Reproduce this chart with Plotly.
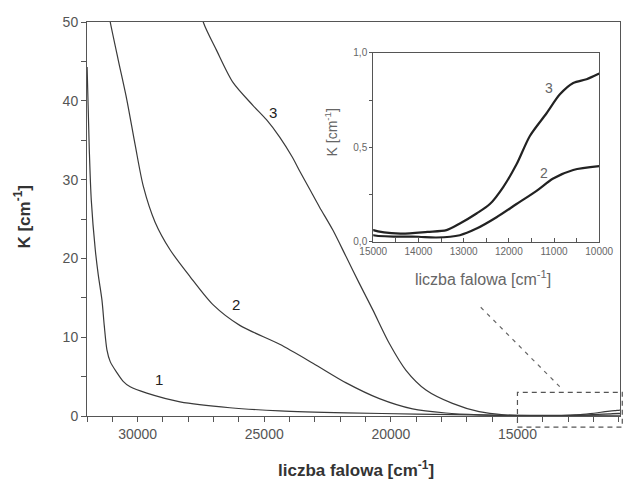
import plotly.graph_objects as go

# ---------------- data ----------------
x1 = [31996, 31909, 31831, 31673, 31555, 31409, 31319, 31213, 31083, 30819, 30571,
      30295, 29638, 28327, 26358, 24390, 21764, 19000, 16000, 13000, 10000]
k1 = [44.3, 33.8, 27.4, 21.1, 17.9, 14.7, 11.5, 8.4, 6.9, 5.5, 4.4,
      3.7, 2.9, 1.8, 1.05, 0.65, 0.4, 0.25, 0.12, 0.08, 0.1]

x2 = [31250, 31083, 30768, 30425, 30098, 29772, 29311, 28720, 27933, 27016, 25965,
      24390, 23078, 21764, 20453, 19142, 17827, 16516, 15000, 14000, 13600, 13083,
      12714, 12271, 11829, 11386, 11018, 10575, 10000]
k2 = [53, 50, 45.2, 40.1, 34.4, 29.1, 24.6, 21.1, 17.7, 14.1, 11.5,
      9.1, 6.7, 4.2, 2.2, 0.9, 0.38, 0.15, 0.035, 0.027, 0.023, 0.035,
      0.07, 0.13, 0.2, 0.27, 0.335, 0.38, 0.40]

x3 = [27600, 27409, 26882, 26228, 25441, 24913, 24390, 23900, 23602, 23209, 22815,
      22291, 21764, 21240, 20717, 20059, 19402, 18614, 17567, 16516, 15465, 15000,
      14400, 13800, 13378, 13083, 12714, 12419, 12124, 11829, 11534, 11165, 10870,
      10575, 10280, 10000]
k3 = [53, 50, 46.4, 42.3, 39.4, 37.6, 35.4, 32.9, 31.1, 28.8, 26.5,
      23.6, 20.2, 16.8, 13.5, 9.2, 5.8, 3.3, 1.6, 0.55, 0.13, 0.062,
      0.044, 0.053, 0.062, 0.097, 0.15, 0.2, 0.29, 0.41, 0.56, 0.68, 0.78,
      0.84, 0.86, 0.89]

# tick positions / labels
main_xticks = list(range(32000, 10999, -1000))
main_xlabels = {30000: "30000", 25000: "25000", 20000: "20000", 15000: "15000"}
main_yticks = [0, 5, 10, 15, 20, 25, 30, 35, 40, 45, 50]
main_ylabels = {0: "0", 10: "10", 20: "20", 30: "30", 40: "40", 50: "50"}
inset_xticks = [15000, 14500, 14000, 13500, 13000, 12500, 12000, 11500, 11000, 10500, 10000]
inset_xlabels = {15000: "15000", 14000: "14000", 13000: "13000", 12000: "12000",
                 11000: "11000", 10000: "10000"}
inset_yticks = [0.0, 0.25, 0.5, 0.75, 1.0]
inset_ylabels = {0.0: "0,0", 0.5: "0,5", 1.0: "1,0"}

XR = [32000, 10950]
YR = [0, 50]

# zoom box (data units) and connector
box_x = [15000, 10860]
box_y = [3.0, -1.4]
conn_x = [16450, 13200]
conn_y = [13.8, 3.3]

FONT = "Liberation Sans, Arial, sans-serif"
LINE = "#3a3a3a"
AX = "#555555"
TXT = "#444444"


def px(x):
    return (XR[0] - x) / (XR[0] - XR[1])


def py(y):
    return (y - YR[0]) / (YR[1] - YR[0])


def labels(vals, lab):
    return [lab.get(v, "") for v in vals]


fig = go.Figure()
for xs, ks in [(x1, k1), (x2, k2), (x3, k3)]:
    fig.add_trace(go.Scatter(x=xs, y=ks, mode="lines", xaxis="x", yaxis="y",
                             line=dict(color=LINE, width=1.2, shape="spline", smoothing=0.8),
                             showlegend=False, hoverinfo="skip"))
for xs, ks in [(x2, k2), (x3, k3)]:
    fig.add_trace(go.Scatter(x=xs, y=ks, mode="lines", xaxis="x2", yaxis="y2",
                             line=dict(color="#222222", width=2.2, shape="spline", smoothing=0.8),
                             showlegend=False, hoverinfo="skip"))

axis_common = dict(showline=True, linecolor=AX, linewidth=1, mirror=True, automargin=False,
                   showgrid=False, zeroline=False, tickcolor=AX, tickwidth=1,
                   tickmode="array")

fig.update_layout(
    template="none",
    width=628, height=479,
    margin=dict(l=87, r=8, t=22, b=63, autoexpand=False),
    paper_bgcolor="white", plot_bgcolor="white",
    font=dict(family=FONT, color=TXT),
    xaxis=dict(range=XR, tickvals=main_xticks, ticktext=labels(main_xticks, main_xlabels),
               ticks="outside", ticklen=5, tickfont=dict(size=14, color="#555555"),
               **axis_common),
    yaxis=dict(range=YR, tickvals=main_yticks, ticktext=labels(main_yticks, main_ylabels),
               ticks="outside", ticklen=5, tickfont=dict(size=14, color="#555555"),
               **axis_common),
    xaxis2=dict(domain=[0.537, 0.961], anchor="y2", range=[15000, 10000],
                tickvals=inset_xticks, ticktext=labels(inset_xticks, inset_xlabels),
                ticks="inside", ticklen=4, tickfont=dict(size=10, color="#666666"),
                **axis_common),
    yaxis2=dict(domain=[0.442, 0.922], anchor="x2", range=[0, 1],
                tickvals=inset_yticks, ticktext=labels(inset_yticks, inset_ylabels),
                ticks="outside", ticklen=3, tickfont=dict(size=10, color="#666666"),
                **axis_common),
)

# axis titles
fig.add_annotation(text="<b>liczba falowa [cm<sup>-1</sup>]</b>", xref="paper", yref="paper",
                   x=0.505, y=-0.135, showarrow=False, font=dict(size=17, color="#333333"),
                   xanchor="center", yanchor="middle")
fig.add_annotation(text="<b>K [cm<sup>-1</sup>]</b>", xref="paper", yref="paper",
                   x=-0.121, y=0.505, showarrow=False, textangle=-90,
                   font=dict(size=17, color="#333333"), xanchor="center", yanchor="middle")
fig.add_annotation(text="liczba falowa [cm<sup>-1</sup>]", xref="paper", yref="paper",
                   x=0.743, y=0.35, showarrow=False, font=dict(size=16, color="#666666"),
                   xanchor="center", yanchor="middle")
fig.add_annotation(text="K [cm<sup>-1</sup>]", xref="paper", yref="paper",
                   x=0.458, y=0.72, showarrow=False, textangle=-90,
                   font=dict(size=14, color="#666666"), xanchor="center", yanchor="middle")

# curve labels
for t, xx, yy in [("1", 29150, 4.6), ("2", 26100, 14.1), ("3", 24650, 38.5)]:
    fig.add_annotation(text=t, x=xx, y=yy, xref="x", yref="y", showarrow=False,
                       font=dict(size=15, color="#222222"))
for t, xx, yy in [("3", 10980, 0.815), ("2", 11090, 0.365)]:
    fig.add_annotation(text=t, x=xx, y=yy, xref="x2", yref="y2", showarrow=False,
                       xanchor="right", font=dict(size=14, color="#666666"))

# dashed zoom box and connector
fig.add_shape(type="rect", xref="paper", yref="paper",
              x0=px(box_x[0]), x1=px(box_x[1]), y0=py(box_y[1]), y1=py(box_y[0]),
              line=dict(color="#555555", width=1.2, dash="5px,4px"))
fig.add_shape(type="line", xref="paper", yref="paper",
              x0=px(conn_x[0]), y0=py(conn_y[0]), x1=px(conn_x[1]), y1=py(conn_y[1]),
              line=dict(color="#666666", width=1.2, dash="4px,5px"))

fig.write_html("out.html")
